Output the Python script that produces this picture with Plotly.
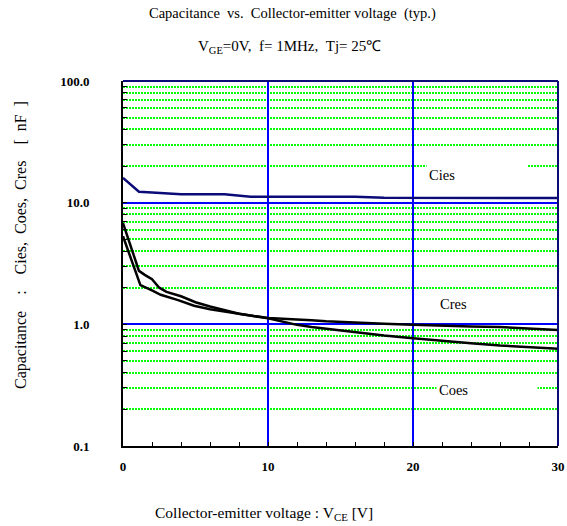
import plotly.graph_objects as go

# ---- data ----
cies_v = [0, 1.1, 2, 4, 7, 8, 8.8, 10, 12, 14, 16, 18, 20, 25, 30]
cies_c = [16.0, 12.3, 12.1, 11.7, 11.7, 11.5, 11.2, 11.2, 11.2, 11.3, 11.2, 11.0, 11.0, 10.95, 10.9]

coes_v = [0, 1.1, 1.5, 2.0, 2.5, 3, 4, 5, 6, 7, 8, 9, 10, 11, 12, 13, 14, 16, 18, 20, 22, 24, 26, 28, 30]
coes_c = [6.8, 2.75, 2.55, 2.35, 2.0, 1.85, 1.70, 1.52, 1.40, 1.30, 1.22, 1.17, 1.13, 1.11, 1.10, 1.08,
          1.06, 1.03, 1.01, 0.99, 0.97, 0.96, 0.95, 0.93, 0.90]

cres_v = [0, 1.2, 2, 2.6, 3.8, 4.9, 6, 7, 8, 9, 10, 11, 12, 13, 14, 16, 18, 20, 22, 24, 26, 28, 30]
cres_c = [5.3, 2.1, 1.9, 1.75, 1.58, 1.42, 1.33, 1.28, 1.22, 1.17, 1.12, 1.05, 0.99, 0.95, 0.92, 0.86,
          0.81, 0.77, 0.73, 0.70, 0.67, 0.65, 0.63]

y_major = [0.1, 1, 10, 100]
y_major_text = ["0.1", "1.0", "10.0", "100.0"]
y_minor = [k * 10 ** e for e in (-1, 0, 1) for k in range(2, 10)]
x_major = [0, 10, 20, 30]

FONT = "Liberation Serif, Times New Roman, serif"

fig = go.Figure()
fig.add_trace(go.Scatter(x=cies_v, y=cies_c, mode="lines", name="Cies",
                         line=dict(color="#0b0b78", width=2.5), showlegend=False))
fig.add_trace(go.Scatter(x=coes_v, y=coes_c, mode="lines", name="Coes",
                         line=dict(color="black", width=2.5), showlegend=False))
fig.add_trace(go.Scatter(x=cres_v, y=cres_c, mode="lines", name="Cres",
                         line=dict(color="black", width=2.5), showlegend=False))

fig.update_layout(
    width=567, height=526,
    margin=dict(l=123, r=9, t=81, b=80),
    paper_bgcolor="white", plot_bgcolor="white",
    font=dict(family=FONT, color="black"),
    hovermode=False,
    xaxis=dict(range=[0, 30], tickmode="array", tickvals=x_major,
               showgrid=True, gridcolor="#0000ff", gridwidth=1.5,
               showline=True, linecolor="black", linewidth=2,
               ticks="inside", ticklen=4, tickcolor="black",
               tickfont=dict(size=13, family=FONT, weight="bold"),
               ticklabelstandoff=7, zeroline=False, automargin=False,
               minor=dict(dtick=2, tick0=0, ticks="inside", ticklen=4,
                          tickcolor="black", showgrid=False)),
    yaxis=dict(type="log", range=[-1, 2], tickmode="array",
               tickvals=y_major, ticktext=y_major_text,
               showgrid=True, gridcolor="#0000ff", gridwidth=1.5,
               showline=True, linecolor="black", linewidth=2,
               ticks="inside", ticklen=4, tickcolor="black",
               tickfont=dict(size=13, family=FONT, weight="bold"),
               ticklabelstandoff=29, zeroline=False, automargin=False,
               minor=dict(tickmode="array", tickvals=y_minor, ticks="inside",
                          ticklen=4, tickcolor="black", showgrid=True,
                          gridcolor="#00ff00", gridwidth=2.4, griddash="2px,1px")),
)

# top & right frame (navy)
fig.add_shape(type="line", xref="x domain", yref="y domain", x0=0, x1=1, y0=1, y1=1,
              line=dict(color="#0b0b78", width=2))
fig.add_shape(type="line", xref="x domain", yref="y domain", x0=1, x1=1, y0=0, y1=1,
              line=dict(color="#0b0b78", width=2))

def px_x(px):
    return (px - 123) / 435.0

def px_y(py):
    return (446 - py) / 365.0

# titles
fig.add_annotation(xref="paper", yref="paper", x=px_x(292), y=px_y(14),
                   xanchor="center", yanchor="middle",
                   text="Capacitance &nbsp;vs. &nbsp;Collector-emitter voltage &nbsp;(typ.)",
                   showarrow=False, font=dict(size=14.5, family=FONT))
fig.add_annotation(xref="paper", yref="paper", x=px_x(289), y=px_y(47),
                   xanchor="center", yanchor="middle",
                   text="V<sub>GE</sub>=0V, &nbsp;f= 1MHz, &nbsp;Tj= 25℃",
                   showarrow=False, font=dict(size=15, family=FONT))
fig.add_annotation(xref="paper", yref="paper", x=px_x(264), y=px_y(513),
                   xanchor="center", yanchor="middle",
                   text="Collector-emitter voltage : V<sub>CE</sub> [V]",
                   showarrow=False, font=dict(size=15.5, family=FONT))
fig.add_annotation(xref="paper", yref="paper", x=px_x(21), y=px_y(245),
                   xanchor="center", yanchor="middle",
                   text="Capacitance &nbsp;&nbsp; : &nbsp;&nbsp; Cies, &nbsp;Coes, &nbsp;Cres &nbsp;&nbsp; [ &nbsp;nF &nbsp;]",
                   textangle=-90, showarrow=False, font=dict(size=16, family=FONT))

# curve labels (white boxes hide the grid)
def vx(px):
    return (px - 123.3) / 14.5

labels = [("Cies", 426, 1.227), ("Cres", 437, 0.170), ("Coes", 436, -0.541)]
for txt, left, ylog in labels:
    fig.add_annotation(xref="x", yref="y", x=vx(left), y=ylog, text=txt,
                       xanchor="left", yanchor="middle", align="left",
                       width=96, height=22, bgcolor="white", borderpad=2,
                       showarrow=False, font=dict(size=14.5, family=FONT))

fig.write_html("out.html", config={"displayModeBar": False},
               post_script="document.body.style.margin='0px';")
